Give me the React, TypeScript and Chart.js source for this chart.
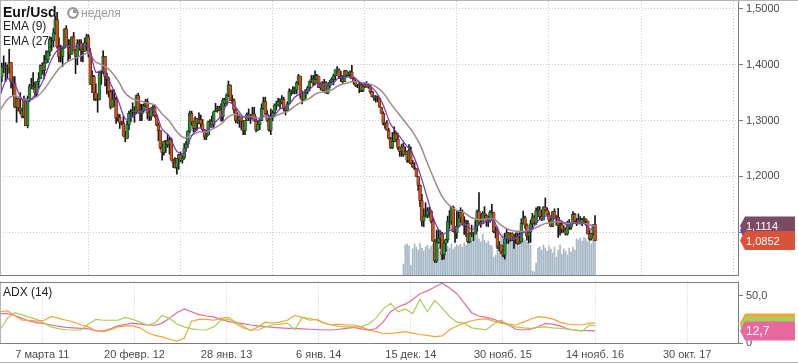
import React, { useEffect, useRef } from "react";
import { Chart, registerables } from "chart.js";

Chart.register(...registerables);

const FONT = "'Liberation Sans', Arial, Helvetica, sans-serif";

// Weekly EUR/USD bars, index 0 = first visible week, last = week before "14 нояб. 16"
const firstOpen = 1.349;
const highs = [
  1.379, 1.403, 1.416, 1.404, 1.4, 1.428, 1.404, 1.379, 1.379, 1.341, 1.339, 1.35, 1.322, 1.344, 1.339, 1.344, 1.365, 1.376, 1.386, 1.369,
  1.37, 1.386, 1.4, 1.404, 1.417, 1.425, 1.425, 1.449, 1.449, 1.465, 1.486, 1.494, 1.449, 1.435, 1.431, 1.465, 1.47, 1.445, 1.445, 1.45,
  1.458, 1.428, 1.445, 1.445, 1.445, 1.437, 1.448, 1.455, 1.454, 1.429, 1.389, 1.381, 1.366, 1.348, 1.388, 1.39, 1.425, 1.415, 1.385, 1.378,
  1.355, 1.355, 1.355, 1.342, 1.312, 1.311, 1.299, 1.308, 1.281, 1.299, 1.317, 1.32, 1.332, 1.325, 1.346, 1.349, 1.33, 1.329, 1.33, 1.338,
  1.339, 1.322, 1.323, 1.327, 1.328, 1.311, 1.296, 1.282, 1.258, 1.263, 1.264, 1.275, 1.27, 1.269, 1.231, 1.234, 1.232, 1.24, 1.244, 1.238,
  1.259, 1.263, 1.282, 1.317, 1.317, 1.299, 1.307, 1.304, 1.314, 1.31, 1.302, 1.284, 1.278, 1.299, 1.302, 1.308, 1.317, 1.331, 1.326, 1.326,
  1.33, 1.34, 1.34, 1.348, 1.371, 1.364, 1.346, 1.339, 1.321, 1.314, 1.311, 1.308, 1.3, 1.3, 1.314, 1.321, 1.311, 1.324, 1.324, 1.307,
  1.3, 1.305, 1.33, 1.342, 1.342, 1.318, 1.309, 1.321, 1.318, 1.33, 1.335, 1.34, 1.339, 1.345, 1.342, 1.325, 1.334, 1.357, 1.355, 1.361,
  1.36, 1.37, 1.383, 1.38, 1.353, 1.35, 1.356, 1.362, 1.371, 1.381, 1.381, 1.389, 1.383, 1.38, 1.368, 1.37, 1.374, 1.37, 1.365, 1.372,
  1.377, 1.383, 1.391, 1.397, 1.393, 1.388, 1.381, 1.39, 1.39, 1.387, 1.389, 1.399, 1.377, 1.373, 1.365, 1.367, 1.368, 1.364, 1.368, 1.37,
  1.365, 1.364, 1.353, 1.344, 1.345, 1.344, 1.34, 1.324, 1.316, 1.296, 1.3, 1.286, 1.27, 1.279, 1.289, 1.279, 1.277, 1.253, 1.258, 1.26,
  1.253, 1.246, 1.257, 1.253, 1.229, 1.225, 1.214, 1.198, 1.185, 1.168, 1.142, 1.153, 1.144, 1.145, 1.139, 1.124, 1.087, 1.104, 1.105, 1.103,
  1.1, 1.085, 1.088, 1.129, 1.139, 1.146, 1.147, 1.105, 1.138, 1.139, 1.144, 1.14, 1.128, 1.122, 1.121, 1.099, 1.113, 1.1, 1.121, 1.14,
  1.171, 1.133, 1.137, 1.146, 1.132, 1.129, 1.139, 1.15, 1.136, 1.11, 1.109, 1.083, 1.076, 1.069, 1.098, 1.105, 1.1, 1.099, 1.099, 1.097,
  1.099, 1.099, 1.099, 1.124, 1.138, 1.129, 1.115, 1.101, 1.122, 1.134, 1.13, 1.144, 1.146, 1.146, 1.14, 1.146, 1.1615, 1.144, 1.136, 1.125,
  1.137, 1.142, 1.13, 1.143, 1.119, 1.118, 1.112, 1.108, 1.12, 1.123, 1.117, 1.137, 1.134, 1.125, 1.133, 1.128, 1.125, 1.128, 1.124, 1.12,
  1.104, 1.098, 1.113, 1.13,
];
const lows = [
  1.34, 1.37, 1.386, 1.37, 1.376, 1.385, 1.358, 1.345, 1.323, 1.297, 1.317, 1.312, 1.305, 1.305, 1.291, 1.287, 1.334, 1.357, 1.356, 1.343,
  1.343, 1.359, 1.375, 1.383, 1.375, 1.403, 1.404, 1.416, 1.425, 1.432, 1.455, 1.43, 1.405, 1.405, 1.397, 1.43, 1.435, 1.406, 1.411, 1.419,
  1.426, 1.384, 1.4, 1.426, 1.406, 1.405, 1.424, 1.426, 1.414, 1.365, 1.35, 1.336, 1.336, 1.315, 1.337, 1.365, 1.384, 1.362, 1.348, 1.342,
  1.321, 1.324, 1.326, 1.295, 1.299, 1.286, 1.292, 1.272, 1.262, 1.268, 1.284, 1.298, 1.306, 1.297, 1.313, 1.32, 1.3, 1.3, 1.315, 1.324,
  1.303, 1.3, 1.301, 1.311, 1.306, 1.291, 1.264, 1.249, 1.229, 1.238, 1.243, 1.252, 1.24, 1.229, 1.216, 1.215, 1.204, 1.213, 1.226, 1.224,
  1.231, 1.245, 1.252, 1.278, 1.292, 1.28, 1.28, 1.283, 1.294, 1.288, 1.282, 1.266, 1.266, 1.274, 1.29, 1.288, 1.288, 1.316, 1.315, 1.318,
  1.299, 1.299, 1.326, 1.327, 1.343, 1.336, 1.331, 1.314, 1.296, 1.295, 1.288, 1.284, 1.275, 1.275, 1.3, 1.3, 1.295, 1.303, 1.299, 1.28,
  1.282, 1.284, 1.3, 1.32, 1.311, 1.298, 1.281, 1.275, 1.3, 1.312, 1.319, 1.326, 1.322, 1.33, 1.317, 1.31, 1.317, 1.33, 1.345, 1.348,
  1.348, 1.348, 1.364, 1.34, 1.33, 1.336, 1.34, 1.348, 1.353, 1.368, 1.363, 1.364, 1.374, 1.359, 1.355, 1.354, 1.351, 1.349, 1.348, 1.358,
  1.368, 1.364, 1.373, 1.386, 1.375, 1.37, 1.367, 1.37, 1.379, 1.38, 1.377, 1.375, 1.365, 1.361, 1.359, 1.35, 1.352, 1.352, 1.359, 1.36,
  1.358, 1.349, 1.342, 1.336, 1.333, 1.334, 1.324, 1.313, 1.292, 1.286, 1.283, 1.267, 1.25, 1.25, 1.262, 1.262, 1.248, 1.236, 1.236, 1.236,
  1.24, 1.225, 1.225, 1.222, 1.216, 1.212, 1.2, 1.175, 1.146, 1.111, 1.11, 1.127, 1.126, 1.127, 1.117, 1.084, 1.046, 1.046, 1.08, 1.071,
  1.051, 1.052, 1.066, 1.082, 1.106, 1.114, 1.101, 1.082, 1.089, 1.109, 1.117, 1.113, 1.096, 1.092, 1.081, 1.081, 1.092, 1.085, 1.097, 1.102,
  1.115, 1.109, 1.115, 1.124, 1.111, 1.11, 1.118, 1.133, 1.099, 1.09, 1.071, 1.067, 1.062, 1.056, 1.052, 1.08, 1.08, 1.084, 1.085, 1.071,
  1.08, 1.078, 1.081, 1.082, 1.115, 1.107, 1.086, 1.081, 1.082, 1.105, 1.114, 1.114, 1.133, 1.124, 1.121, 1.122, 1.138, 1.13, 1.118, 1.11,
  1.11, 1.125, 1.113, 1.091, 1.095, 1.099, 1.1, 1.095, 1.095, 1.105, 1.105, 1.115, 1.119, 1.112, 1.115, 1.115, 1.112, 1.117, 1.112, 1.097,
  1.086, 1.086, 1.094, 1.085,
];
const closes = [
  1.379, 1.396, 1.398, 1.396, 1.394, 1.404, 1.37, 1.367, 1.324, 1.34, 1.323, 1.318, 1.308, 1.338, 1.291, 1.338, 1.361, 1.361, 1.359, 1.349,
  1.37, 1.375, 1.399, 1.39, 1.403, 1.409, 1.423, 1.446, 1.443, 1.457, 1.481, 1.432, 1.414, 1.415, 1.43, 1.464, 1.435, 1.431, 1.419, 1.45,
  1.426, 1.415, 1.438, 1.439, 1.428, 1.424, 1.44, 1.45, 1.42, 1.365, 1.379, 1.35, 1.339, 1.338, 1.387, 1.389, 1.415, 1.379, 1.375, 1.352,
  1.324, 1.339, 1.338, 1.304, 1.306, 1.296, 1.295, 1.272, 1.268, 1.293, 1.313, 1.315, 1.319, 1.315, 1.345, 1.319, 1.312, 1.318, 1.327, 1.334,
  1.314, 1.307, 1.323, 1.324, 1.309, 1.292, 1.282, 1.252, 1.243, 1.263, 1.264, 1.257, 1.266, 1.229, 1.225, 1.216, 1.232, 1.239, 1.229, 1.233,
  1.251, 1.258, 1.281, 1.313, 1.298, 1.286, 1.304, 1.295, 1.302, 1.294, 1.284, 1.271, 1.274, 1.298, 1.299, 1.293, 1.316, 1.318, 1.322, 1.32,
  1.307, 1.337, 1.331, 1.346, 1.364, 1.336, 1.336, 1.319, 1.3, 1.3, 1.307, 1.299, 1.282, 1.3, 1.311, 1.305, 1.303, 1.312, 1.299, 1.283,
  1.293, 1.3, 1.322, 1.334, 1.312, 1.301, 1.283, 1.307, 1.314, 1.328, 1.328, 1.334, 1.333, 1.338, 1.322, 1.318, 1.33, 1.352, 1.352, 1.355,
  1.355, 1.368, 1.38, 1.349, 1.337, 1.35, 1.355, 1.359, 1.37, 1.374, 1.367, 1.374, 1.38, 1.359, 1.367, 1.354, 1.368, 1.349, 1.363, 1.369,
  1.374, 1.38, 1.391, 1.391, 1.379, 1.375, 1.37, 1.389, 1.381, 1.383, 1.387, 1.375, 1.37, 1.363, 1.363, 1.364, 1.354, 1.361, 1.365, 1.36,
  1.361, 1.352, 1.343, 1.343, 1.341, 1.34, 1.324, 1.313, 1.295, 1.296, 1.283, 1.268, 1.252, 1.263, 1.276, 1.267, 1.252, 1.245, 1.253, 1.239,
  1.245, 1.229, 1.246, 1.223, 1.217, 1.214, 1.2, 1.184, 1.157, 1.12, 1.129, 1.131, 1.139, 1.138, 1.12, 1.084, 1.049, 1.082, 1.089, 1.097,
  1.06, 1.08, 1.087, 1.12, 1.12, 1.145, 1.101, 1.099, 1.111, 1.126, 1.135, 1.116, 1.111, 1.116, 1.083, 1.098, 1.098, 1.097, 1.111, 1.138,
  1.118, 1.115, 1.134, 1.13, 1.119, 1.121, 1.136, 1.135, 1.101, 1.104, 1.074, 1.077, 1.065, 1.059, 1.088, 1.099, 1.087, 1.097, 1.086, 1.092,
  1.092, 1.08, 1.083, 1.116, 1.126, 1.113, 1.093, 1.1, 1.115, 1.127, 1.117, 1.139, 1.14, 1.128, 1.122, 1.145, 1.14, 1.131, 1.122, 1.111,
  1.137, 1.125, 1.127, 1.112, 1.114, 1.105, 1.104, 1.097, 1.117, 1.109, 1.116, 1.132, 1.12, 1.115, 1.123, 1.115, 1.123, 1.124, 1.12, 1.097,
  1.088, 1.098, 1.114, 1.0852,
];

// Volume histogram (only shown for the last part of the series)
const volumeStart = 219;
const volumes = [
  11, 30, 31, 29, 10, 26, 31, 28, 25, 32, 27, 24, 28, 30, 26, 29, 31, 27, 25, 28,
  24, 27, 30, 26, 29, 27, 31, 26, 28, 30, 29, 31, 28, 32, 30, 33, 31, 34, 42, 44,
  45, 36, 33, 41, 35, 32, 34, 30, 29, 18, 20, 31, 34, 38, 41, 36, 40, 42, 37, 36,
  39, 35, 38, 36, 34, 37, 35, 33, 36, 30, 4, 3, 12, 27, 28, 25, 30, 27, 24, 29,
  26, 22, 28, 18, 25, 30, 21, 26, 24, 20, 27, 23, 28, 25, 36, 35, 37, 34, 38, 36,
  33, 37, 31, 35, 34,
];

// Indicator readings, one every 4 bars (last reading on the final bar)
const indicatorStep = 4;
const ema9 = [
  1.345, 1.375, 1.365, 1.338, 1.336, 1.351, 1.377, 1.41, 1.429, 1.434, 1.433, 1.432, 1.434, 1.387, 1.39, 1.366, 1.338, 1.303, 1.308, 1.316,
  1.32, 1.317, 1.285, 1.272, 1.245, 1.242, 1.272, 1.287, 1.282, 1.295, 1.308, 1.333, 1.324, 1.307, 1.306, 1.3, 1.311, 1.306, 1.321, 1.325,
  1.342, 1.35, 1.356, 1.367, 1.364, 1.365, 1.377, 1.378, 1.378, 1.367, 1.364, 1.352, 1.328, 1.294, 1.276, 1.258, 1.24, 1.205, 1.161, 1.119,
  1.097, 1.103, 1.108, 1.116, 1.105, 1.113, 1.12, 1.12, 1.094, 1.088, 1.09, 1.099, 1.103, 1.12, 1.129, 1.127, 1.122, 1.113, 1.117, 1.118,
  1.107, 1.103,
];
const ema27 = [
  1.318, 1.338, 1.345, 1.339, 1.337, 1.343, 1.356, 1.375, 1.393, 1.404, 1.411, 1.416, 1.421, 1.405, 1.399, 1.389, 1.372, 1.349, 1.339, 1.335,
  1.332, 1.328, 1.312, 1.299, 1.28, 1.269, 1.274, 1.28, 1.28, 1.286, 1.294, 1.307, 1.311, 1.307, 1.307, 1.304, 1.307, 1.306, 1.312, 1.316,
  1.326, 1.334, 1.34, 1.349, 1.352, 1.355, 1.363, 1.367, 1.37, 1.368, 1.366, 1.361, 1.35, 1.331, 1.314, 1.297, 1.28, 1.257, 1.224, 1.192,
  1.164, 1.148, 1.139, 1.135, 1.126, 1.123, 1.124, 1.124, 1.113, 1.105, 1.102, 1.102, 1.103, 1.11, 1.116, 1.118, 1.119, 1.116, 1.117, 1.117,
  1.114, 1.1114,
];
const adx = [
  31, 31, 29, 26, 23, 21.5, 20.5, 19, 17.5, 16.5, 16, 15.5, 15, 13, 12.5, 15, 18, 19.5, 21, 20,
  19, 18.5, 21, 26, 32, 36, 33, 30, 28.5, 27.5, 25, 22.5, 21.5, 20.5, 19, 18, 17.2, 16.5, 16, 15.5,
  15.5, 15, 14.5, 14, 14, 13.7, 14.5, 15.5, 16.4, 15, 13.7, 15, 22, 33, 38, 41, 46, 52, 55, 59,
  63, 58, 52, 42, 32, 28.5, 27, 25, 22, 19, 14.5, 13.7, 14.5, 17, 20.5, 20, 18, 15, 13.7, 13.2,
  13, 12.7,
];
const plusDI = [
  14, 26, 32, 30, 27, 25, 21, 17, 15, 14, 13.7, 13.7, 20, 25, 24, 24, 24, 27, 25, 22,
  19, 21, 29, 26, 20, 17, 15, 14, 13.7, 17, 24, 25, 20, 16, 13.7, 13.7, 17, 19, 20, 21,
  14, 27, 26, 24, 21, 19, 17.5, 17, 17, 17, 20, 26, 36, 42, 33, 36, 31, 46, 33, 45,
  37, 28, 22, 21, 16, 15, 14, 20, 24, 19, 17, 16, 15.5, 16.5, 17, 16, 15.5, 14.5, 13.5, 12.5,
  19, 18,
];
const minusDI = [
  33, 34, 29, 24, 24, 23, 24, 28, 26, 24, 22, 19, 17, 13, 12, 14, 17, 18, 18, 16,
  11, 8, 6.5, 4, 2, 5, 23, 25, 25, 24, 26, 27, 22, 18, 13, 17, 22, 21, 22, 24,
  29, 27, 24, 25, 21, 19, 20, 19, 19, 17, 14, 12, 10, 10, 11, 12, 10.5, 9, 8, 6.7,
  7.5, 14, 18, 21, 23.5, 25, 25.5, 23, 21, 20, 19, 22, 25, 27.8, 27, 25.5, 22, 20, 19.5, 19,
  21, 21,
];

const dateTickIndex = [23, 73, 123, 173, 223, 273, 323, 373];
const dateTickLabels = ["7 марта 11", "20 февр. 12", "28 янв. 13", "6 янв. 14", "15 дек. 14", "30 нояб. 15", "14 нояб. 16", "30 окт. 17"];
const priceTicks = [1.1, 1.2, 1.3, 1.4, 1.5];
const adxTicks = [0, 50];

const UP = "#2f8c3a";
const UP_EDGE = "#173d1a";
const DOWN = "#c9521e";
const DOWN_EDGE = "#4d2410";
const WICK = "#151515";
const VOL = "#a6b8c6";
const EMA9_COLOR = "#7a32c2";
const EMA27_COLOR = "#a2878f";
const ADX_PINK = "#e8699f";
const ADX_GREEN = "#a7cf55";
const ADX_ORANGE = "#f7a236";
const GRID = "#cdcdcd";
const FRAME = "#7d7d7d";
const FRAME_LIGHT = "#b4b4b4";

const X_MIN = 0;
const X_MAX = 400.6;
const PRICE_MIN = 1.0235;
const PRICE_MAX = 1.5143;
const ADX_MAX = 64.9;

const comma = (v: number, d: number) => v.toFixed(d).replace(".", ",");
const stepX = (k: number, last: number) => Math.min(k * indicatorStep, last);

function drawTag(ctx: any, left: number, right: number, y: number, color: string, text: string | null, size: number) {
  const h = 19;
  const tip = 5;
  ctx.save();
  ctx.beginPath();
  ctx.moveTo(left, y);
  ctx.lineTo(left + tip, y - h / 2);
  ctx.lineTo(right, y - h / 2);
  ctx.lineTo(right, y + h / 2);
  ctx.lineTo(left + tip, y + h / 2);
  ctx.closePath();
  ctx.fillStyle = color;
  ctx.fill();
  if (text) {
    ctx.fillStyle = "#ffffff";
    ctx.font = `${size}px ${FONT}`;
    ctx.textAlign = "left";
    ctx.textBaseline = "middle";
    ctx.fillText(text, left + 6, y + 1);
  }
  ctx.restore();
}

function framePlugin(id: string, extra: (ctx: any, chart: any) => void) {
  return {
    id,
    afterDraw(chart: any) {
      const { ctx, chartArea } = chart;
      const { left, right, top, bottom } = chartArea;
      ctx.save();
      ctx.lineWidth = 1;
      ctx.strokeStyle = FRAME;
      ctx.beginPath();
      ctx.moveTo(Math.round(right) + 0.5, top);
      ctx.lineTo(Math.round(right) + 0.5, bottom + 1);
      ctx.moveTo(left, Math.round(bottom) + 0.5);
      ctx.lineTo(right + 1, Math.round(bottom) + 0.5);
      ctx.stroke();
      ctx.strokeStyle = FRAME_LIGHT;
      ctx.beginPath();
      ctx.moveTo(left + 0.5, top);
      ctx.lineTo(left + 0.5, bottom);
      ctx.stroke();
      ctx.restore();
      extra(ctx, chart);
    },
  };
}

const noPadY = (width: number) => (s: any) => {
  s.width = width;
  s.paddingTop = 0;
  s.paddingBottom = 0;
};
const noPadX = (height: number) => (s: any) => {
  s.height = height;
  s.paddingLeft = 0;
  s.paddingRight = 0;
};

export default function App() {
  const mainRef = useRef<HTMLCanvasElement | null>(null);
  const adxRef = useRef<HTMLCanvasElement | null>(null);

  useEffect(() => {
    const lastIndex = closes.length - 1;
    const wicks: any[] = [];
    const bodies: any[] = [];
    const bodyFill: string[] = [];
    const bodyEdge: string[] = [];
    let prev = firstOpen;
    closes.forEach((c, i) => {
      const o = prev;
      const hi = Math.max(highs[i], o, c);
      const lo = Math.min(lows[i], o, c);
      wicks.push({ x: i, y: [lo, hi] });
      bodies.push({ x: i, y: [o, c] });
      const up = c >= o;
      bodyFill.push(up ? UP : DOWN);
      bodyEdge.push(up ? UP_EDGE : DOWN_EDGE);
      prev = c;
    });
    const vol = volumes.map((v, k) => ({ x: volumeStart + k, y: v }));
    const e9 = ema9.map((v, k) => ({ x: stepX(k, lastIndex), y: v }));
    const e27 = ema27.map((v, k) => ({ x: stepX(k, lastIndex), y: v }));

    const dateAxisTicks = (s: any) => {
      s.ticks = dateTickIndex.map((v) => ({ value: v }));
    };

    const mainTags = framePlugin("mainFrame", (ctx, chart) => {
      const { chartArea, scales } = chart;
      ctx.save();
      ctx.strokeStyle = FRAME_LIGHT;
      ctx.beginPath();
      ctx.moveTo(0, 0.5);
      ctx.lineTo(chart.width, 0.5);
      ctx.stroke();
      ctx.restore();
      const left = chartArea.right + 2;
      const right = left + 55;
      const tags = [
        { v: ema9[ema9.length - 1], c: EMA9_COLOR, t: null },
        { v: ema27[ema27.length - 1], c: "#7a4b62", t: comma(ema27[ema27.length - 1], 4) },
        { v: closes[lastIndex], c: "#d8533a", t: comma(closes[lastIndex], 4) },
      ];
      tags.forEach((tg) => drawTag(ctx, left, right, scales.y.getPixelForValue(tg.v), tg.c, tg.t, 11));
    });

    const main = new Chart(mainRef.current as any, {
      type: "bar",
      data: {
        datasets: [
          {
            type: "line",
            data: e9,
            borderColor: EMA9_COLOR,
            borderWidth: 1.2,
            pointRadius: 0,
            tension: 0.3,
            order: 0,
          } as any,
          {
            type: "line",
            data: e27,
            borderColor: EMA27_COLOR,
            borderWidth: 1.5,
            pointRadius: 0,
            tension: 0.3,
            order: 1,
          } as any,
          {
            data: bodies,
            backgroundColor: bodyFill,
            borderColor: bodyEdge,
            borderWidth: 0.7,
            borderSkipped: false,
            barThickness: 3,
            minBarLength: 1,
            grouped: false,
            order: 2,
          } as any,
          {
            data: wicks,
            backgroundColor: WICK,
            borderWidth: 0,
            barThickness: 1,
            grouped: false,
            order: 3,
          } as any,
          {
            data: vol,
            yAxisID: "yv",
            backgroundColor: VOL,
            borderWidth: 0,
            barThickness: 1,
            grouped: false,
            order: 4,
          } as any,
        ],
      },
      options: {
        animation: false,
        responsive: false,
        maintainAspectRatio: false,
        layout: { padding: { top: 1, left: 0, right: 0, bottom: 0 } },
        plugins: { legend: { display: false }, tooltip: { enabled: false } },
        scales: {
          x: {
            type: "linear",
            min: X_MIN,
            max: X_MAX,
            offset: false,
            afterBuildTicks: dateAxisTicks,
            afterFit: noPadX(1),
            ticks: { display: false },
            grid: { color: GRID, drawTicks: false, lineWidth: 1 },
            border: { display: false, dash: [1, 2] },
          },
          y: {
            position: "right",
            min: PRICE_MIN,
            max: PRICE_MAX,
            afterBuildTicks: (s: any) => {
              s.ticks = priceTicks.map((v) => ({ value: v }));
            },
            afterFit: noPadY(60),
            ticks: {
              callback: (v: any) => comma(Number(v), 4),
              color: "#4a4a4a",
              font: { family: FONT, size: 11 },
              padding: 3,
            },
            grid: { color: GRID, tickLength: 5, tickColor: FRAME },
            border: { display: false, dash: [1, 2] },
          },
          yv: { display: false, min: 0, max: 274 },
        } as any,
      },
      plugins: [mainTags],
    } as any);

    const adxTags = framePlugin("adxFrame", (ctx, chart) => {
      const { chartArea, scales } = chart;
      ctx.save();
      ctx.strokeStyle = FRAME;
      ctx.beginPath();
      ctx.moveTo(chartArea.left, Math.round(chartArea.top) + 0.5);
      ctx.lineTo(chartArea.right + 1, Math.round(chartArea.top) + 0.5);
      ctx.stroke();
      ctx.strokeStyle = FRAME_LIGHT;
      ctx.beginPath();
      ctx.moveTo(0, chart.height - 0.5);
      ctx.lineTo(chart.width, chart.height - 0.5);
      ctx.stroke();
      ctx.restore();
      const left = chartArea.right + 2;
      const right = left + 55;
      const n = adx.length - 1;
      const tags = [
        { v: minusDI[n], c: ADX_ORANGE, t: null },
        { v: plusDI[n], c: ADX_GREEN, t: null },
        { v: adx[n], c: ADX_PINK, t: comma(adx[n], 1) },
      ];
      tags.forEach((tg) => drawTag(ctx, left, right, scales.y.getPixelForValue(tg.v), tg.c, tg.t, 12));
    });

    const lineDs = (vals: number[], color: string, order: number) => ({
      data: vals.map((v, k) => ({ x: stepX(k, lastIndex), y: v })),
      borderColor: color,
      borderWidth: 1.2,
      pointRadius: 0,
      tension: 0,
      order,
    });

    const adxChart = new Chart(adxRef.current as any, {
      type: "line",
      data: {
        datasets: [
          lineDs(adx, ADX_PINK, 2),
          lineDs(plusDI, ADX_GREEN, 1),
          lineDs(minusDI, ADX_ORANGE, 0),
        ],
      },
      options: {
        animation: false,
        responsive: false,
        maintainAspectRatio: false,
        layout: { padding: { top: 5.5, left: 0, right: 0, bottom: 0 } },
        plugins: { legend: { display: false }, tooltip: { enabled: false } },
        scales: {
          x: {
            type: "linear",
            min: X_MIN,
            max: X_MAX,
            offset: false,
            afterBuildTicks: dateAxisTicks,
            afterFit: noPadX(20),
            ticks: {
              autoSkip: false,
              maxRotation: 0,
              color: "#4a4a4a",
              font: { family: FONT, size: 11 },
              padding: 5,
              callback: (v: any) => {
                const k = dateTickIndex.indexOf(Number(v));
                return k >= 0 ? dateTickLabels[k] : "";
              },
            },
            grid: { color: GRID, drawTicks: false, lineWidth: 1 },
            border: { display: false, dash: [1, 2] },
          },
          y: {
            position: "right",
            min: 0,
            max: ADX_MAX,
            afterBuildTicks: (s: any) => {
              s.ticks = adxTicks.map((v) => ({ value: v }));
            },
            afterFit: noPadY(60),
            ticks: {
              callback: (v: any) => (Number(v) === 0 ? "0" : comma(Number(v), 1)),
              color: "#4a4a4a",
              font: { family: FONT, size: 11 },
              padding: 3,
            },
            grid: { drawOnChartArea: false, tickLength: 5, tickColor: FRAME },
            border: { display: false },
          },
        } as any,
      },
      plugins: [adxTags],
    } as any);

    return () => {
      main.destroy();
      adxChart.destroy();
    };
  }, []);

  const label: React.CSSProperties = {
    position: "absolute",
    left: 3,
    fontSize: 12,
    lineHeight: "14px",
    color: "#222",
    whiteSpace: "nowrap",
  };

  return (
    <div
      style={{
        position: "fixed",
        left: 0,
        top: 0,
        width: 798,
        height: 363,
        background: "#ffffff",
        overflow: "hidden",
        fontFamily: FONT,
      }}
    >
      <canvas
        ref={mainRef}
        width={798}
        height={276}
        style={{ position: "absolute", left: 0, top: 0, width: 798, height: 276 }}
      />
      <canvas
        ref={adxRef}
        width={798}
        height={87}
        style={{ position: "absolute", left: 0, top: 276, width: 798, height: 87 }}
      />
      <div style={{ ...label, top: 4, fontSize: 14, lineHeight: "16px", fontWeight: "bold", color: "#111" }}>Eur/Usd</div>
      <svg width={12} height={12} style={{ position: "absolute", left: 67, top: 7 }}>
        <circle cx={6} cy={6} r={4.8} fill="none" stroke="#9a9a9a" strokeWidth={2.2} />
        <path d="M6 6 L6 2.2 A3.8 3.8 0 0 1 9.8 6 Z" fill="#9a9a9a" />
      </svg>
      <div style={{ ...label, left: 81, top: 6, color: "#999" }}>неделя</div>
      <div style={{ ...label, top: 19 }}>EMA (9)</div>
      <div style={{ ...label, top: 34 }}>EMA (27)</div>
      <div style={{ ...label, top: 285 }}>ADX (14)</div>
    </div>
  );
}
